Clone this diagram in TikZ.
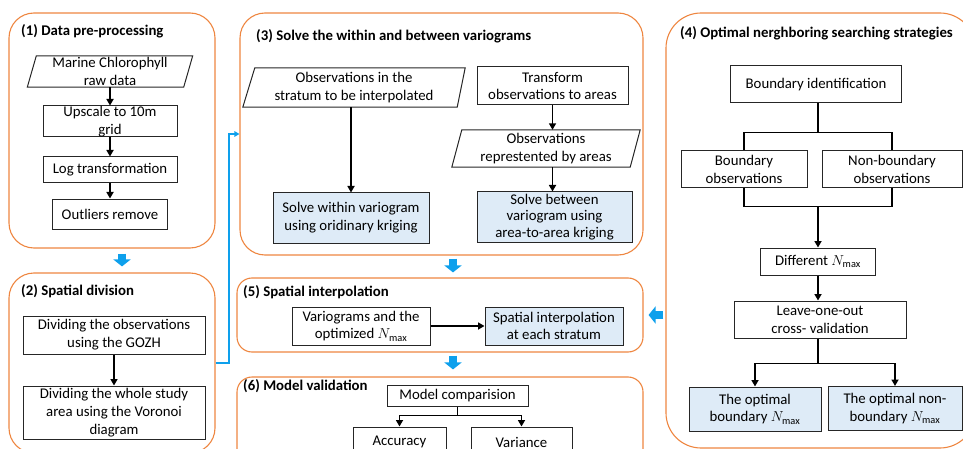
\documentclass[tikz,border=0pt]{standalone}
\usepackage{fontspec}
\setmainfont{Carlito}
\usetikzlibrary{arrows.meta,calc}
\definecolor{ob}{HTML}{EE8640}
\definecolor{lb}{HTML}{DEEBF7}
\definecolor{cy}{HTML}{0EA0EC}
\begin{document}
\begin{tikzpicture}[x=1pt,y=-1pt,
  font=\fontsize{14.8}{17.8}\selectfont,
  panel/.style={draw=ob, line width=1.1pt, rounded corners=#1, inner sep=0pt},
  sz/.style 2 args={minimum width=#1, minimum height=#2},
  box/.style={draw=black!85, line width=1pt, inner sep=0pt, align=center},
  res/.style={box, fill=lb},
  pbody/.style={inner sep=0pt, align=center},
  pline/.style={draw=black!85, line width=1pt},
  ttl/.style={anchor=west, font=\fontsize{14.8}{17.8}\selectfont\bfseries, inner sep=0pt},
  arr/.style={line width=1.9pt, -{Triangle[length=6.5pt,width=7pt]}},
  ln/.style={line width=1.9pt},
  blk/.style={draw=cy, line width=8pt, -{Triangle[length=7pt,width=17pt]}},
  bl/.style={draw=cy, line width=2pt, -{Triangle[length=5pt,width=5.5pt]}}]

\clip (0,0) rectangle (963,449);

% panels
\node[panel=25pt, sz={206}{235}] (P1) at (112,130.5) {};
\node[panel=25pt, sz={206}{180}] (P2) at (112,363) {};
\node[panel=25pt, sz={403}{242}] (P3) at (441.5,134) {};
\node[panel=15pt, sz={406}{74}] (P5) at (440,315) {};
\node[panel=15pt, sz={406}{98}] (P6) at (440,426) {};
\node[panel=35pt, sz={309}{435}] (P4) at (820.5,230.5) {};

% titles
\node[ttl] (T1) at (21,31) {(1) Data pre-processing};
\node[ttl] (T2) at (21,291) {(2) Spatial division};
\node[ttl] (T3) at (256,36) {(3) Solve the within and between variograms};
\node[ttl] (T5) at (243,292) {(5) Spatial interpolation};
\node[ttl] (T6) at (243,386) {(6) Model validation};
\node[ttl] (T4) at (680,33) {(4) Optimal nerghboring searching strategies};

% (1)
\node[pbody, sz={165}{31}] (m1) at (110,71.5) {Marine Chlorophyll\\raw data};
\draw[pline] ($(m1.north west)+(9,0)$) -- (m1.north east) -- ($(m1.south east)+(-9,0)$) -- (m1.south west) -- cycle;
\node[box, sz={134}{31}] (m2) at (110,121.5) {Upscale to 10m\\grid};
\node[box, sz={134}{26}] (m3) at (110,170) {Log transformation};
\node[box, sz={115}{30}] (m4) at (110,214) {Outliers remove};
\draw[arr] (m1.south) -- (m2.north);
\draw[arr] (m2.south) -- (m3.north);
\draw[arr] (m3.south) -- (m4.north);

% (2)
\node[box, sz={182}{38}] (d1) at (114,335) {Dividing the observations\\using the GOZH};
\node[box, sz={182}{53}] (d2) at (114,412.5) {Dividing the whole study\\area using the Voronoi\\diagram};
\draw[arr, line width=1.5pt] (d1.south) -- (d2.north);

% (3)
\node[pbody, sz={222}{39}] (p2) at (354,87.5) {Observations in the\\stratum to be interpolated};
\draw[pline] ($(p2.north west)+(12,0)$) -- (p2.north east) -- ($(p2.south east)+(-8,0)$) -- (p2.south west) -- cycle;
\node[box, sz={151}{38}] (tr) at (552.5,86) {Transform\\observations to areas};
\node[pbody, sz={188}{37}] (p3) at (546,148.5) {Observations\\represtented by areas};
\draw[pline] ($(p3.north west)+(10,0)$) -- (p3.north east) -- ($(p3.south east)+(-10,0)$) -- (p3.south west) -- cycle;
\node[res, sz={156}{50}] (sw) at (351,218) {Solve within variogram\\using oridinary kriging};
\node[res, sz={155}{50}, font=\fontsize{14.8}{16.5}\selectfont] (sb) at (554.5,217) {Solve between\\variogram using\\area-to-area kriging};
\draw[arr] (sw.north |- p2.south) -- (sw.north);
\draw[arr] (tr.south) -- (tr.south |- p3.north);
\draw[arr] (tr.south |- p3.south) -- (tr.south |- sb.north);

% (5)
\node[box, sz={138}{38}] (v) at (361,326) {Variograms and the\\optimized $N_{\max}$};
\node[res, sz={138}{38}] (si) at (554,326) {Spatial interpolation\\at each stratum};
\draw[arr] (v) -- (si);

% (6)
\node[box, sz={141}{21}] (mc) at (457.5,395.5) {Model comparision};
\node[box, sz={93}{30}] (acc) at (399.5,442) {Accuracy};
\node[box, sz={101}{30}] (var) at (521.5,442) {Variance};
\coordinate (mcj) at ($(mc.south)+(0,9)$);
\draw[ln] (mc.south) -- (mcj);
\draw[arr] (mcj) -| (acc.north);
\draw[arr] (mcj) -| (var.north);

% (4)
\node[box, sz={171}{37}] (bi) at (816,84.5) {Boundary identification};
\node[box, sz={126}{37}] (bo) at (744,169.5) {Boundary\\observations};
\node[box, sz={140}{37}] (nb) at (892,169.5) {Non-boundary\\observations};
\node[box, sz={115}{27}] (df) at (818,261.5) {Different $N_{\max}$};
\node[box, sz={172}{37}] (lo) at (820,319.5) {Leave-one-out\\cross- validation};
\node[res, sz={132}{44}] (ob1) at (755,409) {The optimal\\boundary $N_{\max}$};
\node[res, sz={134}{44}] (ob2) at (895,408.5) {The optimal non-\\boundary $N_{\max}$};
\coordinate (j1) at ($(bi.south)+(2,29)$);
\draw[ln] (bi.south -| j1) -- (j1);
\draw[ln] (j1) -| (bo.north);
\draw[ln] (j1) -| (nb.north);
\coordinate (j2) at ($(df.north)+(0,-41)$);
\draw[ln] (bo.south) |- (j2);
\draw[ln] (nb.south) |- (j2);
\draw[arr] (j2) -- (df.north);
\draw[arr] (df.south) -- (df.south |- lo.north);
\coordinate (j3) at ($(df.south |- lo.south)+(0,25)$);
\draw[ln] (df.south |- lo.south) -- (j3);
\draw[arr] (j3) -| (ob1.north);
\draw[arr] (j3) -| (ob2.north);

% blue connectors
\draw[blk] ($(P1.south)+(10,5)$) -- ($(P2.north)+(10,-6)$);
\draw[blk] ($(P3.south)+(11.5,3)$) -- ($(P5.north)+(13,-5)$);
\draw[blk] ($(P5.south)+(13,3)$) -- ($(P6.north)+(13,-7)$);
\draw[blk] ($(P4.west |- P5.east)+(-2,0)$) -- ($(P5.east)+(5,0)$);
\draw[bl] (P2.east) -- ++(13,0) |- (P3.west);
\end{tikzpicture}
\end{document}
